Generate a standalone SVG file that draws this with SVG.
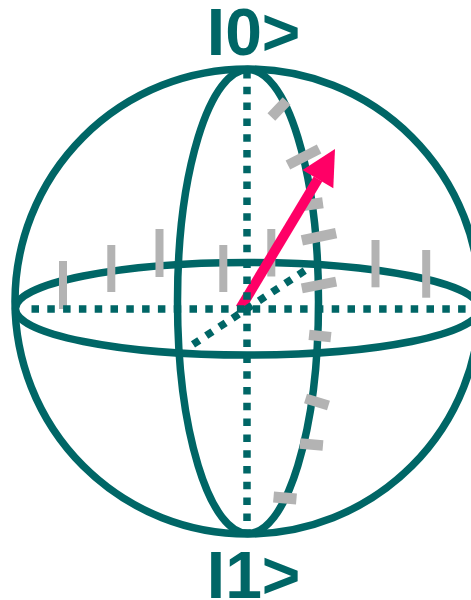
<svg xmlns="http://www.w3.org/2000/svg" width="471" height="600" viewBox="0 0 471 600">
  <style>
    .line { fill: none; stroke: #006666; stroke-width: 7.5; }
    .dot { fill: none; stroke: #006666; stroke-width: 7.5; stroke-dasharray: 7.5 8.3; }
    .tick { fill: #b3b3b3; }
    .label { font-family: "Liberation Sans", Arial, sans-serif; font-weight: bold; font-size: 66px; fill: #006666; }
  </style>
  <rect width="471" height="600" fill="#ffffff"/>
  <g id="sphere">
    <circle class="line" cx="247.5" cy="301.5" r="232.5"/>
    <ellipse class="line" cx="247.5" cy="308.75" rx="232" ry="46.25"/>
    <ellipse class="line" cx="248" cy="301.5" rx="70.5" ry="232"/>
  </g>
  <g id="equator-ticks">
    <rect class="tick" x="59" y="261" width="8" height="48"/>
    <rect class="tick" x="107.3" y="245" width="8" height="47"/>
    <rect class="tick" x="155.5" y="229" width="8" height="48"/>
    <rect class="tick" x="219.3" y="245" width="8" height="47"/>
    <rect class="tick" x="267.3" y="229" width="8" height="47.5"/>
    <rect class="tick" x="371.5" y="240" width="8" height="47.3"/>
    <rect class="tick" x="422.2" y="250" width="8" height="47.7"/>
  </g>
  <g id="meridian-ticks">
    <rect class="tick" x="-11" y="-5.4" width="22" height="10.8" transform="translate(279,109) rotate(-46)"/>
    <rect class="tick" x="-17.5" y="-5" width="35" height="10" transform="translate(303.5,157) rotate(-27)"/>
    <rect class="tick" x="-11" y="-5.5" width="22" height="11" transform="translate(312,204.3) rotate(-8)"/>
    <rect class="tick" x="-17.5" y="-5.2" width="35" height="10.4" transform="translate(319,236.7) rotate(-12)"/>
    <rect class="tick" x="-17.5" y="-5" width="35" height="10" transform="translate(319,285) rotate(-11)"/>
    <rect class="tick" x="-11" y="-5.2" width="22" height="10.4" transform="translate(320,336) rotate(6)"/>
    <rect class="tick" x="-12" y="-5" width="24" height="10" transform="translate(317,402) rotate(17)"/>
    <rect class="tick" x="-11.5" y="-5.2" width="23" height="10.4" transform="translate(311.5,444.5) rotate(5)"/>
    <rect class="tick" x="-11.5" y="-5.5" width="23" height="11" transform="translate(285,498) rotate(5)"/>
  </g>
  <g id="state-vector">
    <line x1="240.3" y1="308.3" x2="318" y2="179" stroke="#ff0066" stroke-width="10"/>
    <polygon points="335,149 302.5,170 333.3,188.3" fill="#ff0066"/>
  </g>
  <g id="axes">
    <line class="dot" x1="247" y1="71" x2="247" y2="530"/>
    <line class="dot" x1="31.5" y1="309" x2="471" y2="309"/>
    <line class="dot" x1="193" y1="344.4" x2="306" y2="269.8"/>
  </g>
  <g id="label-0">
    <text class="label" x="206.8" y="55">I0&gt;</text>
  </g>
  <g id="label-1">
    <text class="label" x="206.8" y="598">I1&gt;</text>
  </g>
</svg>
